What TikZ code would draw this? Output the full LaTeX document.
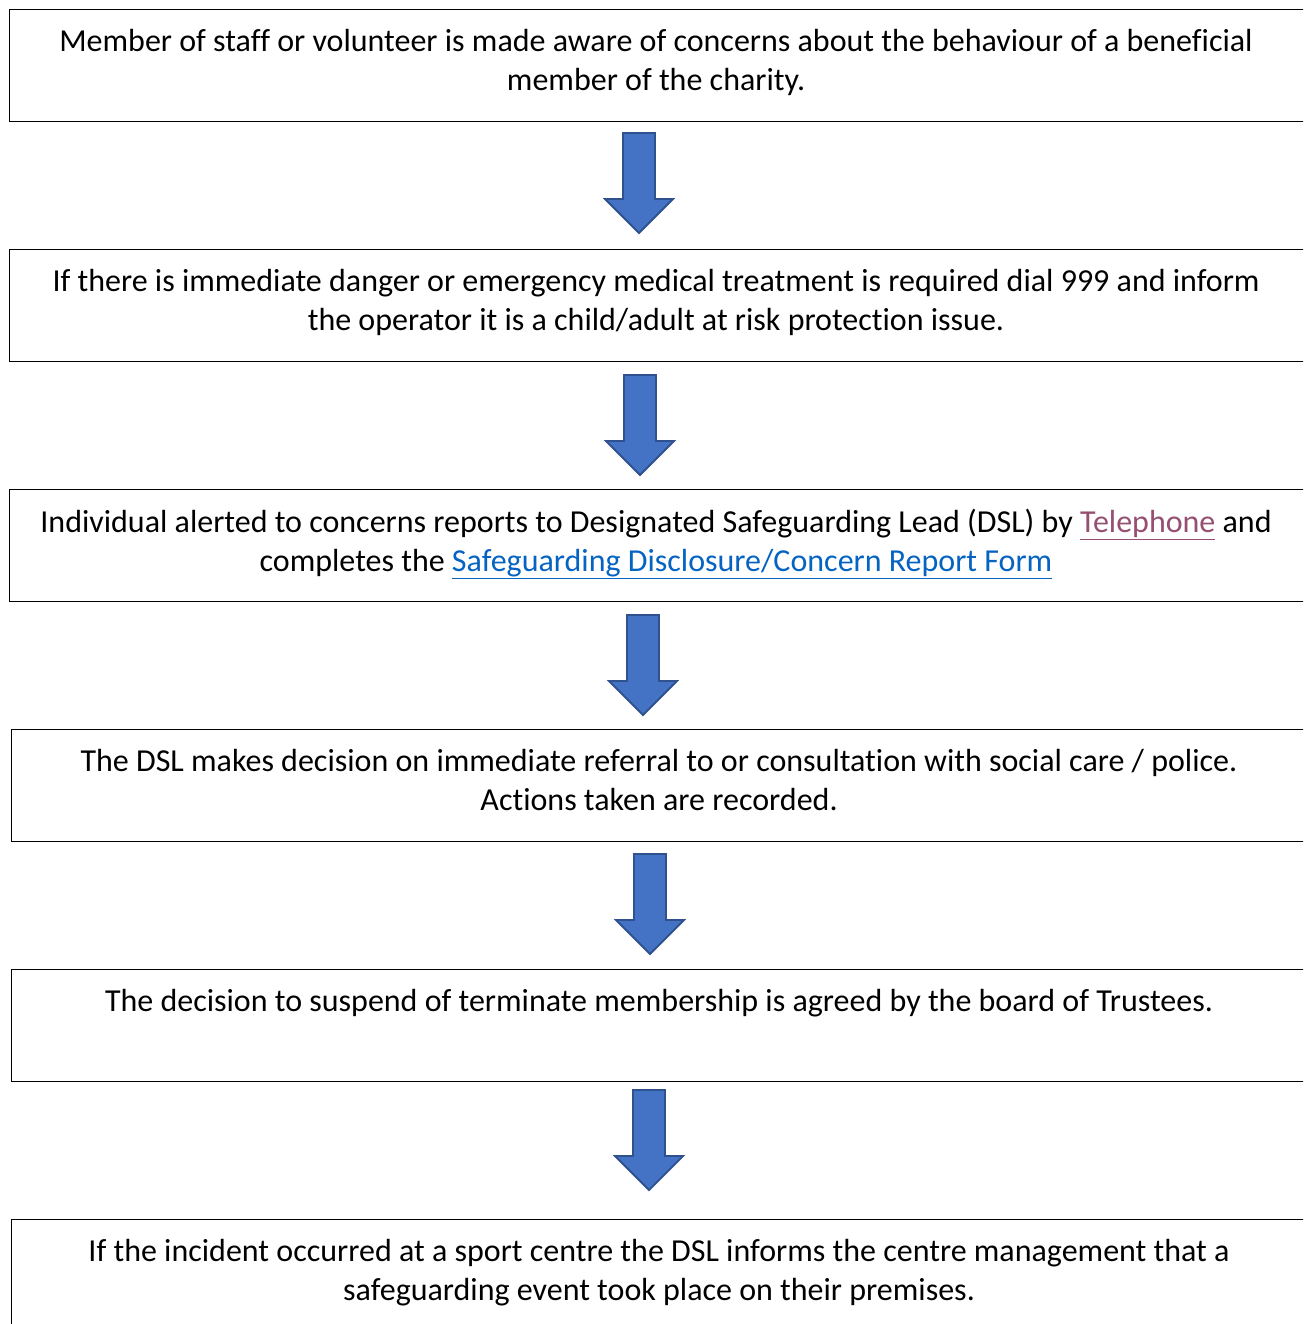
\documentclass[tikz,border=0pt]{standalone}
\usepackage{fontspec}
\setmainfont{Carlito}[Ligatures=NoCommon]
\definecolor{arrfill}{HTML}{4472C4}
\definecolor{arrdraw}{HTML}{2F528F}
\definecolor{visited}{HTML}{954F72}
\definecolor{linkblue}{HTML}{0563C1}
\newcommand{\linkline}[1]{\underline{#1}}
\begin{document}
\begin{tikzpicture}[x=1pt,y=-1pt,
  flowbox/.style={draw=black,line width=1.3pt,minimum width=1300pt,minimum height=112pt,anchor=north west,inner sep=0pt},
  boxtext/.style={anchor=north,inner sep=0pt,align=center,font=\fontsize{32}{39}\selectfont},
  blockarrow/.style={fill=arrfill,draw=arrdraw,line width=1.8pt,line join=miter}]
\useasboundingbox (0,0) rectangle (1303,1324);
\clip (0,0) rectangle (1303,1324);
\node[flowbox] (b1) at (9,9) {};
\node[flowbox] (b2) at (9,249) {};
\node[flowbox] (b3) at (9,489) {};
\node[flowbox] (b4) at (11,729) {};
\node[flowbox] (b5) at (11,969) {};
\node[flowbox] (b6) at (11,1219) {};
\node[boxtext] (t1) at (656,29) {Member of staff or volunteer is made aware of concerns about the behaviour of a beneficial\\member of the charity.};
\node[boxtext] (t2) at (656,269) {If there is immediate danger or emergency medical treatment is required dial 999 and inform\\the operator it is a child/adult at risk protection issue.};
\node[boxtext] (t3) at (656,509) {Individual alerted to concerns reports to Designated Safeguarding Lead (DSL) by \textcolor{visited}{\linkline{Telephone}} and\\completes the \textcolor{linkblue}{\linkline{Safeguarding Disclosure/Concern Report Form}}};
\node[boxtext] (t4) at (659,749) {The DSL makes decision on immediate referral to or consultation with social care / police.\\Actions taken are recorded.};
\node[boxtext] (t5) at (659,989) {The decision to suspend of terminate membership is agreed by the board of Trustees.};
\node[boxtext] (t6) at (659,1239) {If the incident occurred at a sport centre the DSL informs the centre management that a\\safeguarding event took place on their premises.};
\foreach \cx/\ty in {639/133, 640/375, 643/615, 650/854, 649/1090}{
  \draw[blockarrow] (\cx-16,\ty) -- (\cx+16,\ty) -- (\cx+16,\ty+66) -- (\cx+34,\ty+66) -- (\cx,\ty+100) -- (\cx-34,\ty+66) -- (\cx-16,\ty+66) -- cycle;
}
\end{tikzpicture}
\end{document}
